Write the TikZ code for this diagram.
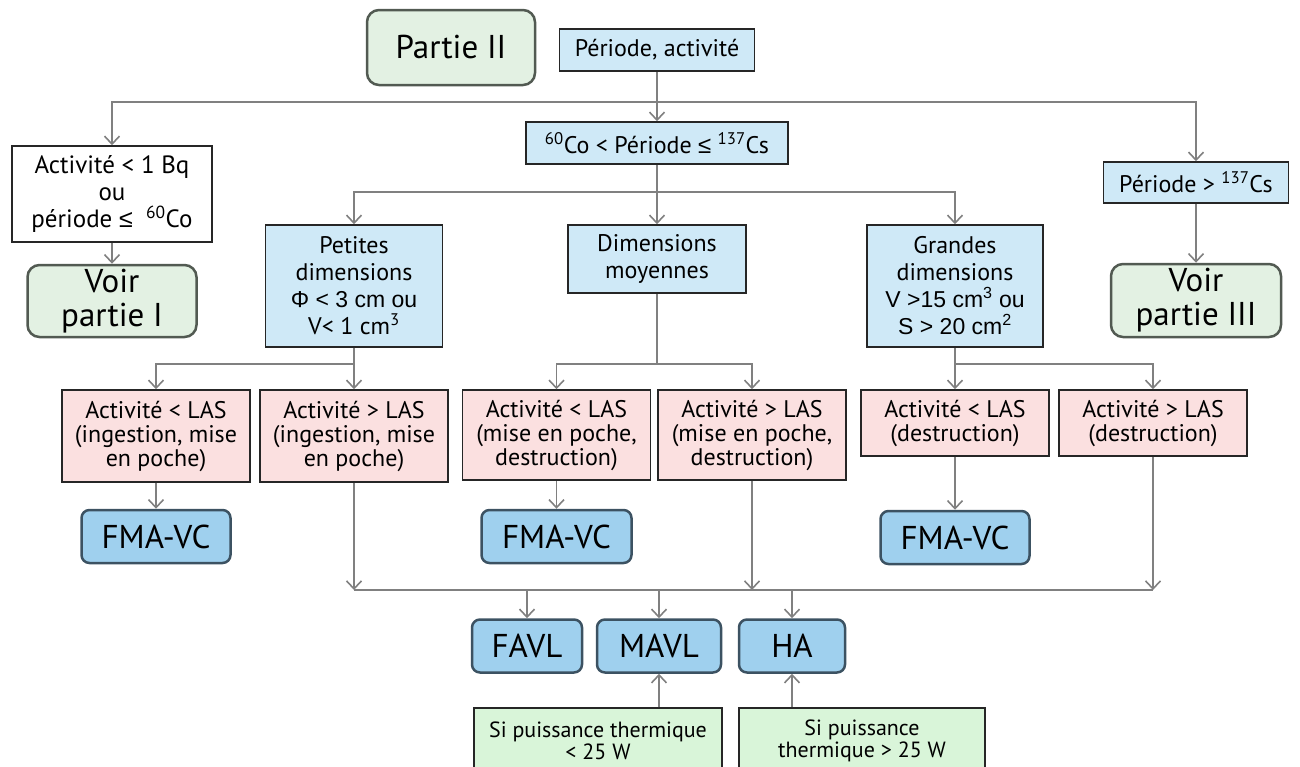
\documentclass[tikz,border=0pt]{standalone}
\usepackage{fontspec}
\setmainfont{PT Sans}
\newfontfamily\arialf{Liberation Sans}
\usepackage{tikz}
\usetikzlibrary{arrows.meta,positioning}
\definecolor{linegray}{HTML}{808080}
\definecolor{boxline}{HTML}{262626}
\definecolor{condblue}{HTML}{CFE9F7}
\definecolor{laspink}{HTML}{FBE0E0}
\definecolor{partgreen}{HTML}{E3F1E3}
\definecolor{partline}{HTML}{525A52}
\definecolor{destblue}{HTML}{9FD0EE}
\definecolor{destline}{HTML}{3C5262}
\definecolor{notegreen}{HTML}{D9F5D9}
\tikzset{every node/.style={align=center,inner sep=0pt}}

\begin{document}
\begin{tikzpicture}[->,>={Straight Barb[length=8pt,width=15pt]},x=1pt,y=-1pt,
                    line width=1.6pt,linegray]
  \tikzstyle{cond}=[draw=boxline,fill=condblue,text=black,line width=1.5pt,font=\fontsize{24}{27}\selectfont]
  \tikzstyle{las}=[draw=boxline,fill=laspink,text=black,line width=1.5pt,minimum width=188pt,font=\fontsize{24}{24}\selectfont]
  \tikzstyle{part}=[draw=partline,fill=partgreen,text=black,line width=2.5pt,rounded corners=12pt,font=\fontsize{33}{34}\selectfont]
  \tikzstyle{dest}=[draw=destline,fill=destblue,text=black,line width=2.5pt,rounded corners=8pt,minimum height=53pt,font=\fontsize{33}{34}\selectfont]
  \tikzstyle{note}=[draw=boxline,fill=notegreen,text=black,line width=1.5pt,minimum height=66pt,font=\fontsize{22}{22}\selectfont]

  \clip (0,0) rectangle (1300,766);

  \node[part,minimum width=168pt,minimum height=75pt]
                                  (p2)  at (451,47.5)  {Partie II};
  \node[cond,minimum width=195pt,minimum height=42pt] (per) at (657,50) {Période, activité};
  \node[cond,minimum width=262pt,minimum height=42pt] (co)  at (657,143)
        {\textsuperscript{60}Co < Période {\arialf ≤} \textsuperscript{137}Cs};
  \node[cond,fill=white,minimum width=200pt,minimum height=96pt,font=\fontsize{25}{27}\selectfont]
                                  (act) at (112,194)
        {Activité < 1 Bq\\ou\\période {\arialf ≤}\ \ \textsuperscript{60}Co};
  \node[part,minimum width=169pt,minimum height=72pt] (v1) [below=21pt of act] {Voir\\partie I};
  \node[cond,minimum width=185pt,minimum height=41pt] (cs)  at (1196,182.5)
        {Période > \textsuperscript{137}Cs};
  \node[part,minimum width=170pt,minimum height=73pt] (v3) [below=59pt of cs] {Voir\\partie III};

  % tailles
  \node[cond,minimum width=177pt,minimum height=122pt] (pet) at (354,286)
        {Petites\\dimensions\\{\arialf\fontsize{23}{27}\selectfont Φ < 3 cm ou}\\V< 1 cm\textsuperscript{3}};
  \node[cond,minimum width=178pt,minimum height=68pt]  (moy) at (657,259) {Dimensions\\moyennes};
  \node[cond,minimum width=176pt,minimum height=122pt] (gra) at (955,286)
        {Grandes\\dimensions\\{\arialf\fontsize{23}{27}\selectfont V >15 cm\textsuperscript{3} ou}\\
         {\arialf\fontsize{23}{27}\selectfont S > 20 cm\textsuperscript{2}}};

  % activite / LAS
  \node[las,minimum height=92pt] (l1) at (156,436)   {Activité < LAS\\(ingestion, mise\\en poche)};
  \node[las,minimum height=92pt] (l2) at (354,436)   {Activité > LAS\\(ingestion, mise\\en poche)};
  \node[las,minimum height=90pt] (l3) at (556.5,435) {Activité < LAS\\(mise en poche,\\destruction)};
  \node[las,minimum height=90pt] (l4) at (752,435)   {Activité > LAS\\(mise en poche,\\destruction)};
  \node[las,minimum height=66pt] (l5) at (955,423)   {Activité < LAS\\(destruction)};
  \node[las,minimum height=66pt] (l6) at (1153,423)  {Activité > LAS\\(destruction)};

  \node[dest,minimum width=149pt] (f1) [below=26pt of l1] {FMA-VC};
  \node[dest,minimum width=150pt] (f2) [below=28pt of l3] {FMA-VC};
  \node[dest,minimum width=149pt] (f3) [below=53pt of l5] {FMA-VC};

  \node[dest,minimum width=110pt] (favl) at (527,646) {FAVL};
  \node[dest,minimum width=124pt] (mavl) at (659,646) {MAVL};
  \node[dest,minimum width=106pt] (ha)   at (792,646) {HA};

  \node[note,minimum width=248pt] (w1) at (598,741) {Si puissance thermique\\< 25 W};
  \node[note,minimum width=246pt] (w2) at (862,741) {Si puissance\\thermique > 25 W};

  \coordinate (t1) at (657,102);
  \coordinate (t2) at (657,192);
  \coordinate (s1) at (354,364);
  \coordinate (s2) at (657,364);
  \coordinate (s3) at (955,364);
  \coordinate (bus) at (354,590);
  \coordinate (bus') at (1153,590);

  \draw (per) -- (co);
  \draw (t1) -| (act);
  \draw (t1) -| (cs);
  \draw (act) -- (v1);
  \draw (cs) -- (v3);
  \draw (co) -- (moy);
  \draw (t2) -| (pet);
  \draw (t2) -| (gra);
  \draw (pet) -- (l2);
  \draw (s1) -| (l1);
  \draw[-] (moy) -- (s2);
  \draw (s2) -| (l3);
  \draw (s2) -| (l4);
  \draw (gra) -- (l5);
  \draw (s3) -| (l6);
  \draw (l1) -- (f1);
  \draw (l3) -- (f2);
  \draw (l5) -- (f3);
  \draw (l2) -- (l2 |- bus);
  \draw (l4) -- (l4 |- bus);
  \draw (l6) -- (l6 |- bus);
  \draw[-] (bus) -- (bus');
  \draw (favl |- bus) -- (favl);
  \draw (mavl |- bus) -- (mavl);
  \draw (ha |- bus) -- (ha);
  \draw (w1.north -| mavl) -- (mavl);
  \draw (w2.north -| ha) -- (ha);
\end{tikzpicture}
\end{document}
